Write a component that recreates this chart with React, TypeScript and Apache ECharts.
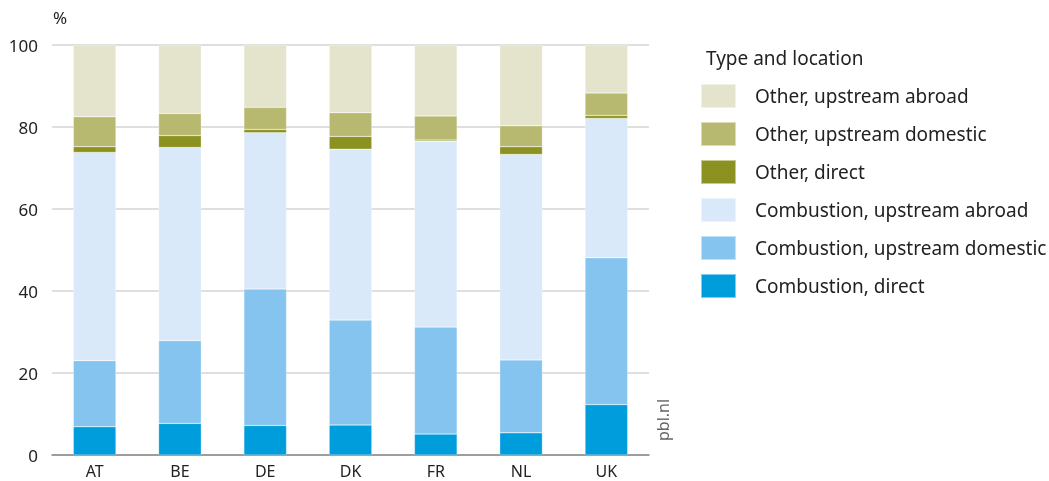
import React, { useEffect, useRef } from "react";
import * as echarts from "echarts";

const categories = ["AT", "BE", "DE", "DK", "FR", "NL", "UK"];
const combustionDirect = [6.9, 7.7, 7.2, 7.3, 5.1, 5.4, 12.3];
const combustionUpDomestic = [16.1, 20.2, 33.3, 25.6, 26.1, 17.8, 35.8];
const combustionUpAbroad = [50.8, 47.1, 38.1, 41.7, 45.3, 50.1, 34.0];
const otherDirect = [1.4, 2.9, 0.8, 3.1, 0.3, 1.9, 0.7];
const otherUpDomestic = [7.3, 5.4, 5.4, 5.8, 5.9, 5.1, 5.5];
const otherUpAbroad = [17.5, 16.7, 15.2, 16.5, 17.3, 19.7, 11.7];
const yTicks = [0, 20, 40, 60, 80, 100];

const seriesDefs = [
  { name: "Combustion, direct", data: combustionDirect, color: "#009ddc" },
  { name: "Combustion, upstream domestic", data: combustionUpDomestic, color: "#85c4ef" },
  { name: "Combustion, upstream abroad", data: combustionUpAbroad, color: "#d9e9f9" },
  { name: "Other, direct", data: otherDirect, color: "#8c9221" },
  { name: "Other, upstream domestic", data: otherUpDomestic, color: "#b8b971" },
  { name: "Other, upstream abroad", data: otherUpAbroad, color: "#e4e4cc" },
];

const FONT = "'Noto Sans', sans-serif";

export default function App() {
  const ref = useRef<HTMLDivElement>(null);
  useEffect(() => {
    if (!ref.current) return;
    const chart = echarts.init(ref.current, null, { renderer: "svg" });
    chart.setOption({
      animation: false,
      textStyle: { fontFamily: FONT },
      grid: { left: 52, right: 400, top: 45, bottom: 26, containLabel: false },
      title: [
        {
          text: "%",
          left: 48,
          top: 4,
          textStyle: { fontSize: 17, fontWeight: "normal", color: "#222", fontFamily: FONT },
        },
        {
          text: "Type and location",
          left: 701,
          top: 43,
          textStyle: { fontSize: 19, fontWeight: "normal", color: "#222", fontFamily: FONT },
        },
      ],
      graphic: [
        {
          type: "text",
          x: 655,
          y: 441,
          rotation: Math.PI / 2,
          originX: 0,
          originY: 0,
          style: { text: "pbl.nl", fontSize: 16, fill: "#666", fontFamily: FONT, align: "left", verticalAlign: "top" },
        },
      ],
      legend: {
        orient: "vertical",
        left: 700,
        top: 83,
        padding: 0,
        itemWidth: 35,
        itemHeight: 24,
        itemGap: 12,
        icon: "rect",
        data: seriesDefs.map((s) => s.name).reverse(),
        textStyle: { fontSize: 19, lineHeight: 24, color: "#222", fontFamily: FONT, padding: [0, 0, 0, 14] },
      },
      xAxis: {
        type: "category",
        data: categories,
        axisLine: { lineStyle: { color: "#888", width: 1.5 } },
        axisTick: { show: false },
        axisLabel: { fontSize: 16, lineHeight: 18, color: "#222", margin: 7, fontFamily: FONT },
      },
      yAxis: {
        type: "value",
        min: 0,
        max: 100,
        interval: 20,
        axisLine: { show: false },
        axisTick: { show: false },
        axisLabel: {
          fontSize: 17,
          color: "#222",
          margin: 14,
          fontFamily: FONT,
          formatter: (v: number) => (yTicks.includes(v) ? String(v) : ""),
        },
        splitLine: { lineStyle: { color: "#d4d4d4", width: 1.5 } },
      },
      series: seriesDefs.map((s) => ({
        name: s.name,
        type: "bar",
        stack: "total",
        data: s.data,
        barWidth: "50%",
        itemStyle: { color: s.color, borderColor: "rgba(255,255,255,0.5)", borderWidth: 0.5 },
      })),
    });
    return () => chart.dispose();
  }, []);
  return (
    <div
      ref={ref}
      style={{ position: "fixed", left: 0, top: 0, width: 1049, height: 481 }}
    />
  );
}
